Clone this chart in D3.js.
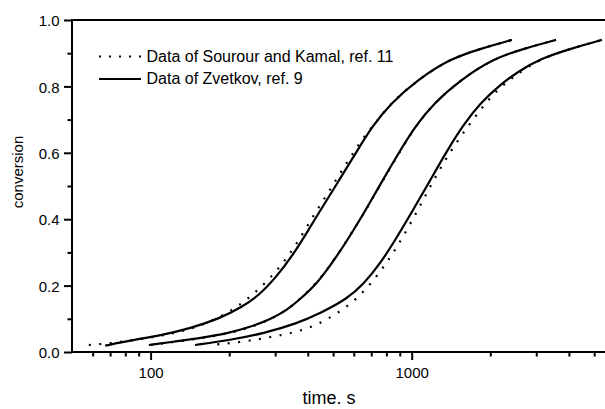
<!DOCTYPE html>
<html>
<head>
<meta charset="utf-8">
<script src="https://cdn.jsdelivr.net/npm/d3@7"></script>
<style>
  body { margin: 0; background: #fff; }
  text { font-family: "Liberation Sans", Arial, sans-serif; fill: #000; }
</style>
</head>
<body>
<div id="chart"></div>
<script>
// Zvetkov (solid) and Sourour & Kamal (dotted), three cure temperatures
var timeSolid1 = [67, 84, 109, 142, 185, 221, 259, 303, 349, 402, 455, 534, 620, 707, 829, 1050, 1405, 1880, 2420]
var convSolid1 = [0.019, 0.035, 0.050, 0.071, 0.102, 0.133, 0.169, 0.226, 0.289, 0.367, 0.437, 0.524, 0.608, 0.680, 0.748, 0.819, 0.884, 0.916, 0.940]

var timeDot1 = [58, 70, 83, 99, 118, 141, 168, 201, 239, 283, 329, 372, 424, 476, 529, 593, 665, 766, 829, 1050, 1405, 1880, 2420]
var convDot1 = [0.021, 0.026, 0.034, 0.043, 0.054, 0.068, 0.090, 0.121, 0.163, 0.217, 0.277, 0.340, 0.416, 0.476, 0.536, 0.596, 0.655, 0.712, 0.748, 0.819, 0.884, 0.916, 0.940]

var timeSolid2 = [98.5, 125, 155, 197, 241, 288, 334, 375, 436, 502, 567, 654, 759, 905, 1033, 1211, 1536, 2054, 2748, 3569]
var convSolid2 = [0.021, 0.032, 0.042, 0.056, 0.075, 0.099, 0.127, 0.160, 0.208, 0.274, 0.337, 0.416, 0.506, 0.608, 0.680, 0.748, 0.819, 0.884, 0.916, 0.940]

var timeDot2 = [100, 125, 155, 197, 241, 288, 334, 375, 436, 502, 567, 654, 759, 905, 1033, 1211, 1536, 2054, 2748, 3569]
var convDot2 = [0.021, 0.031, 0.041, 0.055, 0.074, 0.098, 0.127, 0.161, 0.210, 0.275, 0.338, 0.415, 0.504, 0.606, 0.679, 0.748, 0.819, 0.884, 0.916, 0.940]

var timeSolid3 = [148, 202, 271, 364, 447, 566, 655, 759, 879, 1018, 1179, 1370, 1577, 1832, 2185, 2538, 3108, 4157, 5355]
var convSolid3 = [0.021, 0.036, 0.056, 0.086, 0.117, 0.160, 0.205, 0.267, 0.346, 0.431, 0.518, 0.608, 0.684, 0.750, 0.805, 0.843, 0.884, 0.916, 0.940]

var timeDot3 = [180, 218, 260, 309, 369, 438, 521, 622, 726, 824, 919, 1036, 1138, 1251, 1386, 1559, 1769, 2049, 2444, 3108, 4157, 5355]
var convDot3 = [0.023, 0.029, 0.039, 0.049, 0.062, 0.083, 0.117, 0.162, 0.222, 0.282, 0.342, 0.416, 0.476, 0.536, 0.596, 0.655, 0.714, 0.778, 0.829, 0.884, 0.916, 0.940]

var xMajorTicks = [100, 1000]
var xMinorTicks = [60, 70, 80, 90, 200, 300, 400, 500, 600, 700, 800, 900, 2000, 3000, 4000, 5000]
var yMajorTicks = [0, 0.2, 0.4, 0.6, 0.8, 1.0]
var yMinorTicks = [0.1, 0.3, 0.5, 0.7, 0.9]

var legendLabels = ['Data of Sourour and Kamal, ref. 11', 'Data of Zvetkov, ref. 9']

var width = 605
var height = 409
var margin = { top: 20, left: 72, right: 0, bottom: 57 }

var svg = d3
  .select('#chart')
  .append('svg')
  .attr('width', width)
  .attr('height', height)

var x = d3.scaleLog().domain([50, 5500]).range([margin.left, 605])
var y = d3.scaleLinear().domain([0, 1]).range([height - margin.bottom, margin.top])

function zip(ts, cs) {
  return ts.map(function(t, i) { return { t: t, c: cs[i] } })
}

var line = d3
  .line()
  .x(d => x(d.t))
  .y(d => y(d.c))
  .curve(d3.curveBasis)

// axes
var bottom = y(0)
svg.append('g')
  .attr('transform', 'translate(0,' + bottom + ')')
  .call(d3.axisBottom(x).tickValues(xMinorTicks).tickSize(4.5).tickFormat(''))
svg.append('g')
  .attr('class', 'xmajor')
  .attr('transform', 'translate(0,' + bottom + ')')
  .call(d3.axisBottom(x).tickValues(xMajorTicks).tickSize(8).tickPadding(7).tickFormat(d3.format('d')))
svg.append('g')
  .attr('transform', 'translate(' + margin.left + ',0)')
  .call(d3.axisLeft(y).tickValues(yMinorTicks).tickSize(4.5).tickFormat(''))
svg.append('g')
  .attr('class', 'ymajor')
  .attr('transform', 'translate(' + margin.left + ',0)')
  .call(d3.axisLeft(y).tickValues(yMajorTicks).tickSize(8).tickPadding(4.5).tickFormat(d3.format('.1f')))

svg.selectAll('.domain').remove()
svg.selectAll('.tick line').attr('stroke', '#000').attr('stroke-width', 2)
svg.selectAll('.tick text')
  .attr('font-size', 15)
  .attr('font-family', '"Liberation Sans", Arial, sans-serif')
svg.selectAll('.ymajor .tick text').attr('dy', '0.38em')

// frame (left, top, bottom; right side runs off the picture)
svg.append('path')
  .attr('d', 'M' + (x(5500) + 5) + ',' + y(1) + 'H' + margin.left + 'V' + bottom + 'H' + (x(5500) + 5))
  .attr('fill', 'none')
  .attr('stroke', '#000')
  .attr('stroke-width', 2)

// curves
var solids = [zip(timeSolid1, convSolid1), zip(timeSolid2, convSolid2), zip(timeSolid3, convSolid3)]
var dots = [zip(timeDot1, convDot1), zip(timeDot2, convDot2), zip(timeDot3, convDot3)]

svg.selectAll('.dotted')
  .data(dots)
  .enter()
  .append('path')
  .attr('class', 'dotted')
  .attr('d', line)
  .attr('fill', 'none')
  .attr('stroke', '#000')
  .attr('stroke-width', 2.2)
  .attr('stroke-dasharray', '2,8.5')

svg.selectAll('.solid')
  .data(solids)
  .enter()
  .append('path')
  .attr('class', 'solid')
  .attr('d', line)
  .attr('fill', 'none')
  .attr('stroke', '#000')
  .attr('stroke-width', 2.2)

// legend
var legend = svg.append('g').attr('transform', 'translate(99,0)')
legendLabels.forEach(function(label, i) {
  var ly = i === 0 ? 56.5 : 79
  legend.append('line')
    .attr('x1', 0)
    .attr('x2', 42)
    .attr('y1', ly)
    .attr('y2', ly)
    .attr('stroke', '#000')
    .attr('stroke-width', 2)
    .attr('stroke-dasharray', i === 0 ? '2,8' : null)
  legend.append('text')
    .attr('x', 47.5)
    .attr('y', ly + 5.3)
    .attr('font-size', 16)
    .text(label)
})

// axis titles
svg.append('text')
  .attr('x', 329)
  .attr('y', 404)
  .attr('text-anchor', 'middle')
  .attr('font-size', 18)
  .text('time. s')

svg.append('text')
  .attr('transform', 'translate(23,172) rotate(-90)')
  .attr('text-anchor', 'middle')
  .attr('font-size', 15)
  .text('conversion')
</script>
</body>
</html>
